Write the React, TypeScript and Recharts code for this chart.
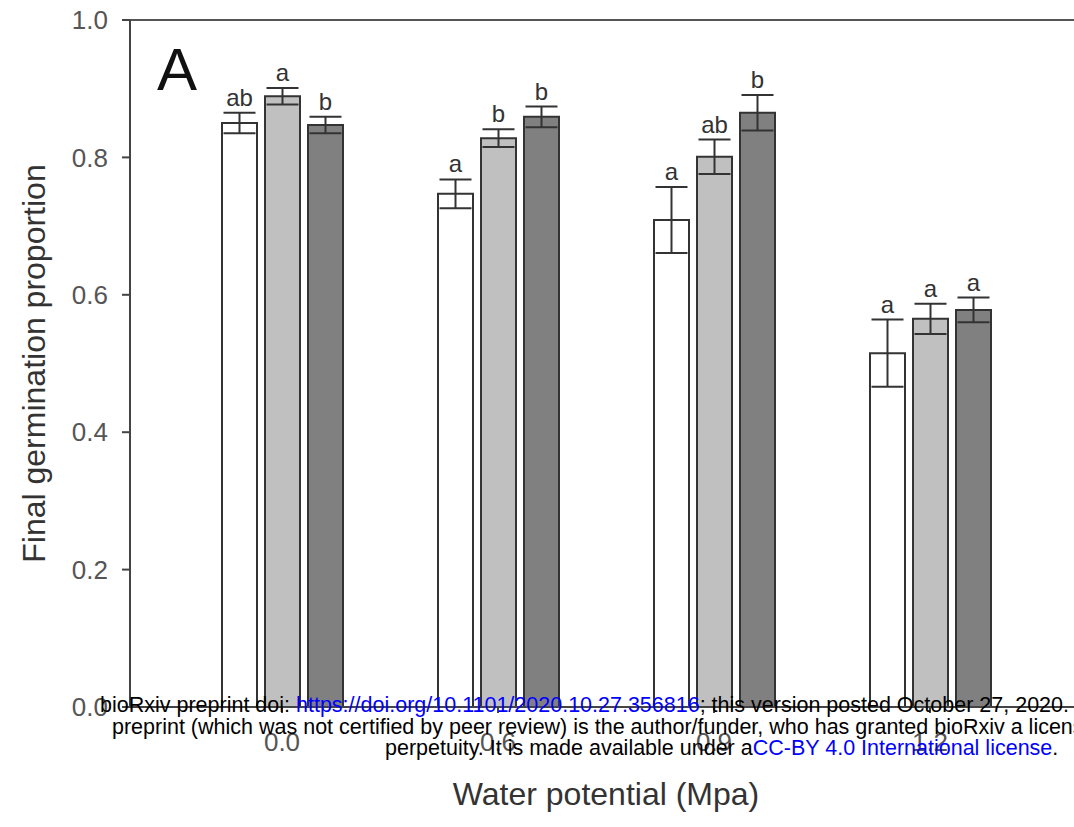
import React from 'react';
import {
  ComposedChart,
  Bar,
  XAxis,
  YAxis,
  ErrorBar,
  LabelList,
  Label,
  ReferenceLine,
} from 'recharts';

// Water potential groups on the x axis
const potentials = ['0.0', '0.6', '0.9', '1.2'];

// Mean final germination proportion per treatment
const whiteMean = [0.85, 0.747, 0.709, 0.515];
const lightMean = [0.889, 0.828, 0.801, 0.565];
const darkMean = [0.847, 0.859, 0.865, 0.578];

// Standard errors
const whiteErr = [0.015, 0.021, 0.048, 0.049];
const lightErr = [0.012, 0.013, 0.025, 0.022];
const darkErr = [0.012, 0.015, 0.026, 0.018];

// Significance letters
const whiteLetters = ['ab', 'a', 'a', 'a'];
const lightLetters = ['a', 'b', 'ab', 'a'];
const darkLetters = ['b', 'b', 'b', 'a'];

const yTicks = [0, 0.2, 0.4, 0.6, 0.8, 1.0];

const data = potentials.map((p, i) => ({
  potential: p,
  white: whiteMean[i],
  whiteErr: whiteErr[i],
  light: lightMean[i],
  lightErr: lightErr[i],
  dark: darkMean[i],
  darkErr: darkErr[i],
}));

const AXIS = '#444';
const INK = '#333';
const FONT = 'Arial, "Liberation Sans", Helvetica, sans-serif';

// letter sits just above the upper whisker
const letterContent = (means: number[], errs: number[], letters: string[]) => (props: any) => {
  const { x, y, width, height, index } = props;
  const pxPerUnit = height / means[index];
  const top = y - errs[index] * pxPerUnit;
  return (
    <text
      x={x + width / 2}
      y={top - 7}
      textAnchor="middle"
      fontSize={24}
      fontFamily={FONT}
      fill={INK}
    >
      {letters[index]}
    </text>
  );
};

const barStyle = { stroke: INK, strokeWidth: 2 };

const App: React.FC = () => {
  return (
    <div
      style={{
        position: 'fixed',
        left: 0,
        top: 0,
        width: 1074,
        height: 827,
        overflow: 'hidden',
        background: '#fff',
      }}
    >
      <ComposedChart
        width={1120}
        height={827}
        data={data}
        margin={{ top: 20, right: 38, left: 0, bottom: 0 }}
        barSize={35}
        barGap={8}
      >
        <XAxis
          dataKey="potential"
          height={120}
          padding={{ left: 44, right: 44 }}
          axisLine={{ stroke: AXIS, strokeWidth: 2 }}
          tickLine={{ stroke: AXIS, strokeWidth: 2 }}
          tickSize={6}
          tickMargin={20}
          tick={{ fontSize: 26, fill: '#555', fontFamily: FONT }}
        >
          <Label
            content={({ viewBox }: any) => (
              <text
                x={viewBox.x + viewBox.width / 2}
                y={viewBox.y + 98}
                textAnchor="middle"
                fontSize={32}
                fontFamily={FONT}
                fill={INK}
              >
                Water potential (Mpa)
              </text>
            )}
          />
        </XAxis>
        <YAxis
          width={130}
          domain={[0, 1]}
          ticks={yTicks}
          tickFormatter={(v: number) => v.toFixed(1)}
          axisLine={{ stroke: AXIS, strokeWidth: 2 }}
          tickLine={{ stroke: AXIS, strokeWidth: 2 }}
          tickSize={8}
          tickMargin={14}
          tick={{ fontSize: 26, fill: '#555', fontFamily: FONT }}
        >
          <Label
            content={({ viewBox }: any) => {
              const cx = 34;
              const cy = viewBox.y + viewBox.height / 2;
              return (
                <text
                  x={cx}
                  y={cy}
                  transform={`rotate(-90 ${cx} ${cy})`}
                  textAnchor="middle"
                  dominantBaseline="central"
                  fontSize={32}
                  fontFamily={FONT}
                  fill={INK}
                >
                  Final germination proportion
                </text>
              );
            }}
          />
        </YAxis>
        <ReferenceLine y={1} stroke="#555" strokeWidth={2}>
          <Label
            value="A"
            position="insideTopLeft"
            offset={27}
            fontSize={60}
            fontFamily={FONT}
            fill="#111"
          />
        </ReferenceLine>

        <Bar dataKey="white" fill="#ffffff" {...barStyle} isAnimationActive={false}>
          <ErrorBar dataKey="whiteErr" width={16} stroke={INK} strokeWidth={2} direction="y" />
          <LabelList dataKey="white" content={letterContent(whiteMean, whiteErr, whiteLetters)} />
        </Bar>
        <Bar dataKey="light" fill="#c0c0c0" {...barStyle} isAnimationActive={false}>
          <ErrorBar dataKey="lightErr" width={16} stroke={INK} strokeWidth={2} direction="y" />
          <LabelList dataKey="light" content={letterContent(lightMean, lightErr, lightLetters)} />
        </Bar>
        <Bar dataKey="dark" fill="#808080" {...barStyle} isAnimationActive={false}>
          <ErrorBar dataKey="darkErr" width={16} stroke={INK} strokeWidth={2} direction="y" />
          <LabelList dataKey="dark" content={letterContent(darkMean, darkErr, darkLetters)} />
        </Bar>
      </ComposedChart>

      {/* preprint banner laid over the figure */}
      <div
        style={{
          position: 'absolute',
          left: 0,
          top: 695,
          width: 1800,
          fontFamily: FONT,
          fontSize: 21.5,
          lineHeight: '21.5px',
          color: '#000',
          whiteSpace: 'nowrap',
        }}
      >
        <div style={{ paddingLeft: 100 }}>
          bioRxiv preprint doi:{' '}
          <span style={{ color: '#0000ff' }}>https://doi.org/10.1101/2020.10.27.356816</span>; this
          version posted October 27, 2020. The copyright holder for this
        </div>
        <div style={{ paddingLeft: 112 }}>
          preprint (which was not certified by peer review) is the author/funder, who has granted
          bioRxiv a license to display the preprint in
        </div>
        <div style={{ paddingLeft: 385 }}>
          perpetuity. It is made available under a
          <span style={{ color: '#0000ff' }}>CC-BY 4.0 International license</span>.
        </div>
      </div>
    </div>
  );
};

export default App;
